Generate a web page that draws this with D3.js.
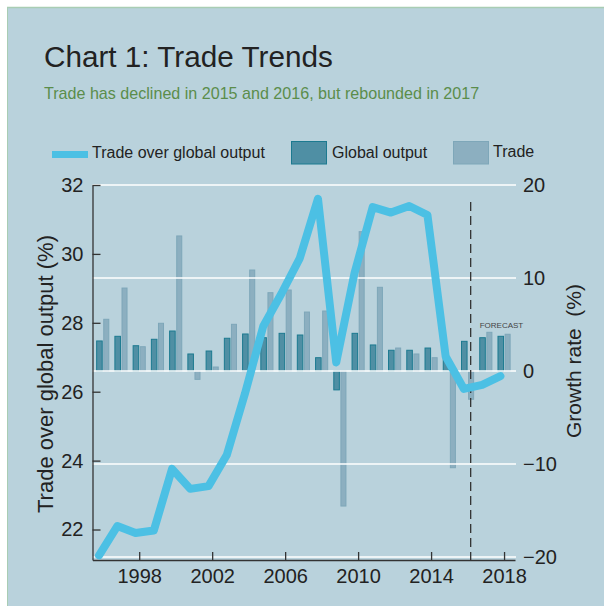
<!DOCTYPE html>
<html>
<head>
<meta charset="utf-8">
<script src="https://cdn.jsdelivr.net/npm/d3@7"></script>
<style>
  html, body { margin: 0; padding: 0; background: #ffffff; }
  svg { display: block; font-family: "Liberation Sans", Arial, sans-serif; }
  text { white-space: pre; }
</style>
</head>
<body>
<svg id="chart" width="604" height="606"></svg>
<script>
// ---- data ----
const years = [1996, 1997, 1998, 1999, 2000, 2001, 2002, 2003, 2004, 2005, 2006, 2007,
               2008, 2009, 2010, 2011, 2012, 2013, 2014, 2015, 2016, 2017, 2018];
// Trade as a share of global output (%), left axis
const tradeShare = [21.25, 22.1, 21.9, 21.97, 23.76, 23.18, 23.26, 24.16, 25.95, 27.9, 28.85, 29.87,
                    31.6, 26.85, 29.44, 31.36, 31.2, 31.39, 31.13, 27.02, 26.08, 26.2, 26.45];
// Growth rates (%), right axis
const outputGrowth = [3.23, 3.73, 2.72, 3.41, 4.3, 1.83, 2.15, 3.52, 3.98, 3.58, 4.05, 3.87,
                      1.43, -2.03, 4.05, 2.8, 2.23, 2.23, 2.47, 1.37, 3.19, 3.58, 3.73];
const tradeGrowth = [5.56, 8.92, 2.61, 5.13, 14.52, -0.9, 0.43, 5.02, 10.86, 8.42, 8.71, 6.34,
                     6.45, -14.52, 14.98, 9.0, 2.47, 1.83, 1.43, -10.4, -3.04, 4.16, 3.95];
const leftTicks = [22, 24, 26, 28, 30, 32];
const rightTicks = [-20, -10, 0, 10, 20];
const yearTicks = [1998, 2002, 2006, 2010, 2014, 2018];
const forecastStart = 2016.17;

const titleText = "Chart 1: Trade Trends";
const subtitleText = "Trade has declined in 2015 and 2016, but rebounded in 2017";
const legendLabels = ["Trade over global output", "Global output", "Trade"];

// ---- styles ----
const C = {
  panel: "#b9d2dc", border: "#a9cdb4", ink: "#222222", sub: "#5b8d4b",
  line: "#4cc0e4", dark: "#4f8fa4", darkStroke: "#1c7a90",
  light: "#8cafc0", lightStroke: "#7ea7b9", grid: "#ffffff", axis: "#333333"
};
const plot = { left: 92.5, right: 515, top: 185, bottom: 560 };
const barW = 0.36;      // bar width in years
const lineShift = -0.2; // line vertices sit slightly left of the year ticks

const svg = d3.select("#chart");

// background panel
svg.append("rect").attr("x", 7).attr("y", 7).attr("width", 604 - 7).attr("height", 606 - 7)
  .attr("fill", C.panel);
svg.append("line").attr("x1", 7).attr("x2", 604).attr("y1", 7.5).attr("y2", 7.5)
  .attr("stroke", C.border).attr("stroke-width", 1.5);
svg.append("line").attr("x1", 7.5).attr("x2", 7.5).attr("y1", 7).attr("y2", 606)
  .attr("stroke", C.border).attr("stroke-width", 1);

// titles
svg.append("text").attr("x", 44).attr("y", 67).attr("font-size", 29.7).attr("fill", C.ink)
  .text(titleText);
svg.append("text").attr("x", 44).attr("y", 99).attr("font-size", 16.1).attr("fill", C.sub)
  .text(subtitleText);

// ---- scales ----
const x = d3.scaleLinear().domain([1995.44, 2018.6]).range([plot.left, plot.right]);
const yL = d3.scaleLinear().domain([21.115, 32]).range([plot.bottom, plot.top]);
const yR = d3.scaleLinear().domain([-20, 20]).range([557, plot.top]);

// ---- bars ----
const rows = years.map((yr, i) => ({ yr, out: outputGrowth[i], trade: tradeGrowth[i] }));
const bars = svg.append("g");
bars.selectAll(".out").data(rows).join("rect")
  .attr("x", d => x(d.yr - barW) + 0.5)
  .attr("width", d => x(d.yr) - x(d.yr - barW) - 1)
  .attr("y", d => yR(Math.max(0, d.out)))
  .attr("height", d => Math.abs(yR(d.out) - yR(0)))
  .attr("fill", C.dark).attr("stroke", C.darkStroke).attr("stroke-width", 1);
bars.selectAll(".trd").data(rows).join("rect")
  .attr("x", d => x(d.yr + 0.03) + 0.5)
  .attr("width", d => x(d.yr + barW) - x(d.yr + 0.03) - 1)
  .attr("y", d => yR(Math.max(0, d.trade)))
  .attr("height", d => Math.abs(yR(d.trade) - yR(0)))
  .attr("fill", C.light).attr("stroke", C.lightStroke).attr("stroke-width", 1);

// ---- gridlines (right axis) ----
svg.append("g").selectAll("line").data(rightTicks).join("line")
  .attr("x1", plot.left).attr("x2", plot.right + 1)
  .attr("y1", d => yR(d)).attr("y2", d => yR(d))
  .attr("stroke", C.grid).attr("stroke-width", 1.6);

// right axis labels
const rAxis = svg.append("g").attr("transform", `translate(${plot.right},0)`)
  .call(d3.axisRight(yR).tickValues(rightTicks).tickSize(0).tickPadding(8));
rAxis.select(".domain").remove();
rAxis.selectAll("text").attr("font-size", 20).attr("fill", C.ink)
  .attr("font-family", "Liberation Sans, Arial, sans-serif");

// left axis
const lAxis = svg.append("g").attr("transform", `translate(${plot.left},0)`)
  .call(d3.axisLeft(yL).tickValues(leftTicks).tickSizeInner(-8).tickSizeOuter(0).tickPadding(9));
lAxis.select(".domain").attr("stroke", C.axis).attr("stroke-width", 1.3);
lAxis.selectAll(".tick line").attr("stroke", C.axis).attr("stroke-width", 1.3);
lAxis.selectAll("text").attr("font-size", 20).attr("fill", C.ink)
  .attr("font-family", "Liberation Sans, Arial, sans-serif");

// bottom axis
const bAxis = svg.append("g").attr("transform", `translate(0,${plot.bottom})`)
  .call(d3.axisBottom(x).tickValues(yearTicks).tickFormat(d3.format("d"))
    .tickSizeInner(-8).tickSizeOuter(0).tickPadding(9));
bAxis.select(".domain").attr("stroke", C.axis).attr("stroke-width", 1.3);
bAxis.selectAll(".tick line").attr("stroke", C.axis).attr("stroke-width", 1.3);
bAxis.selectAll("text").attr("font-size", 20).attr("fill", C.ink)
  .attr("font-family", "Liberation Sans, Arial, sans-serif");

// forecast marker
svg.append("line")
  .attr("x1", x(forecastStart)).attr("x2", x(forecastStart))
  .attr("y1", 202).attr("y2", plot.bottom)
  .attr("stroke", C.axis).attr("stroke-width", 1.3).attr("stroke-dasharray", "9,5");
svg.append("text").attr("x", x(forecastStart) + 9).attr("y", yR(4.6))
  .attr("font-size", 8).attr("fill", "#444").text("FORECAST");

// ---- trade-share line ----
const line = d3.line()
  .x((d, i) => x(years[i] + lineShift))
  .y(d => yL(d));
svg.append("path").datum(tradeShare)
  .attr("d", line)
  .attr("fill", "none").attr("stroke", C.line).attr("stroke-width", 8)
  .attr("stroke-linejoin", "round").attr("stroke-linecap", "round");

// axis titles
svg.append("text").attr("transform", "translate(53,374) rotate(-90)")
  .attr("text-anchor", "middle").attr("font-size", 22).attr("fill", C.ink)
  .text("Trade over global output (%)");
svg.append("text").attr("transform", "translate(581,361) rotate(-90)")
  .attr("text-anchor", "middle").attr("font-size", 21).attr("fill", C.ink)
  .text("Growth rate  (%)");

// ---- legend ----
const lg = svg.append("g");
lg.append("line").attr("x1", 52).attr("x2", 88).attr("y1", 154.5).attr("y2", 154.5)
  .attr("stroke", C.line).attr("stroke-width", 7);
lg.append("text").attr("x", 92).attr("y", 158).attr("font-size", 16).attr("fill", C.ink)
  .text(legendLabels[0]);
lg.append("rect").attr("x", 291.5).attr("y", 141.5).attr("width", 35).attr("height", 22.5)
  .attr("fill", C.dark).attr("stroke", C.darkStroke).attr("stroke-width", 1);
lg.append("text").attr("x", 332).attr("y", 158).attr("font-size", 16).attr("fill", C.ink)
  .text(legendLabels[1]);
lg.append("rect").attr("x", 453.5).attr("y", 141.5).attr("width", 35).attr("height", 22.5)
  .attr("fill", C.light).attr("stroke", C.lightStroke).attr("stroke-width", 1);
lg.append("text").attr("x", 493).attr("y", 157).attr("font-size", 16).attr("fill", C.ink)
  .text(legendLabels[2]);
</script>
</body>
</html>
